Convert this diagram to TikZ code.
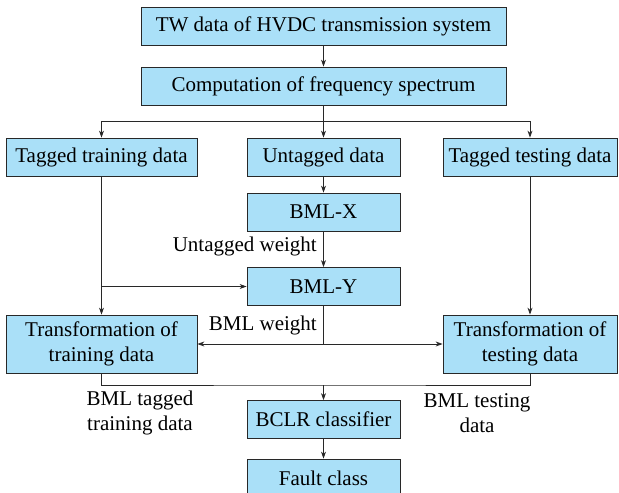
\documentclass[tikz,border=0pt]{standalone}
\usepackage{fontspec}
\setmainfont{Liberation Serif}
\usepackage{xcolor}
\usetikzlibrary{arrows.meta,positioning,calc}

\definecolor{boxblue}{RGB}{170,224,248}
\definecolor{lineg}{RGB}{40,40,40}

\begin{document}
\begin{tikzpicture}[
		x=1pt, y=-1pt,
		font=\fontsize{21}{25}\selectfont,
		>={Stealth[length=7pt,width=5pt]},
		datablock/.style={draw=lineg, line width=0.8pt, fill=boxblue, minimum height=38pt, inner sep=2pt, align=center},
		wideblock/.style={datablock, minimum width=365pt},
		sideblock/.style={datablock, minimum width=191pt},
		midblock/.style={datablock, minimum width=153pt},
		lbl/.style={align=center, inner sep=0pt},
		arrow/.style={line width=0.8pt, draw=lineg, ->},
		link/.style={line width=0.8pt, draw=lineg}
		]

		\useasboundingbox (0,0) rectangle (619,493);
		\clip (0,0) rectangle (619,493);

		\node[wideblock] (tw) at (323.5,26) {TW data of HVDC transmission system};
		\node[wideblock] (spec) at (323.5,86) {Computation of frequency spectrum};

		\node[sideblock] (ttrain) at (101.5,157) {Tagged training data};
		\node[midblock] (untag) at (323.5,157) {Untagged data};
		\node[datablock, minimum width=174pt] (ttest) at (530,157) {Tagged testing data};

		\node[midblock] (bmlx) at (323.5,212) {BML-X};
		\node[midblock] (bmly) at (323.5,286.5) {BML-Y};

		\node[sideblock, minimum height=58pt] (trtrain) at (101.5,344) {Transformation of\\training data};
		\node[datablock, minimum width=174pt, minimum height=58pt] (trtest) at (530,344) {Transformation of\\testing data};

		\node[midblock] (bclr) at (323.5,419.5) {BCLR classifier};
		\node[midblock] (fault) at (323.5,478) {Fault class};

		% labels on the links
		\node[lbl, anchor=east] (uwt) at (317,246) {Untagged weight};
		\node[lbl, anchor=east] (bwt) at (317,325) {BML weight};
		\node[lbl] (btrain) at (140,413) {BML tagged\\training data};
		\node[lbl] (btest) at (477,413) {BML testing\\data};

		\coordinate (split) at (323.5,121);
		\coordinate (wsplit) at (323.5,344);
		\coordinate (join) at (323.5,385);

		\draw[arrow] (tw) -- (spec);
		\draw[link] (spec.south) -- (split);
		\draw[arrow] (split) -| (ttrain.north);
		\draw[arrow] (split) -- (untag.north);
		\draw[arrow] (split) -| (ttest.north);
		\draw[arrow] (untag) -- (bmlx);
		\draw[arrow] (bmlx) -- (bmly);
		\draw[arrow] (ttrain) -- (trtrain);
		\draw[arrow] (ttrain.south |- bmly.west) -- (bmly.west);
		\draw[arrow] (ttest) -- (trtest);
		\draw[link] (bmly.south) -- (wsplit);
		\draw[arrow] (wsplit) -- (trtrain.east);
		\draw[arrow] (wsplit) -- (trtest.west);
		\draw[link] (trtrain.south) |- (join) -| (trtest.south);
		\draw[arrow] (join) -- (bclr.north);
		\draw[arrow] (bclr) -- (fault);
	\end{tikzpicture}
\end{document}
